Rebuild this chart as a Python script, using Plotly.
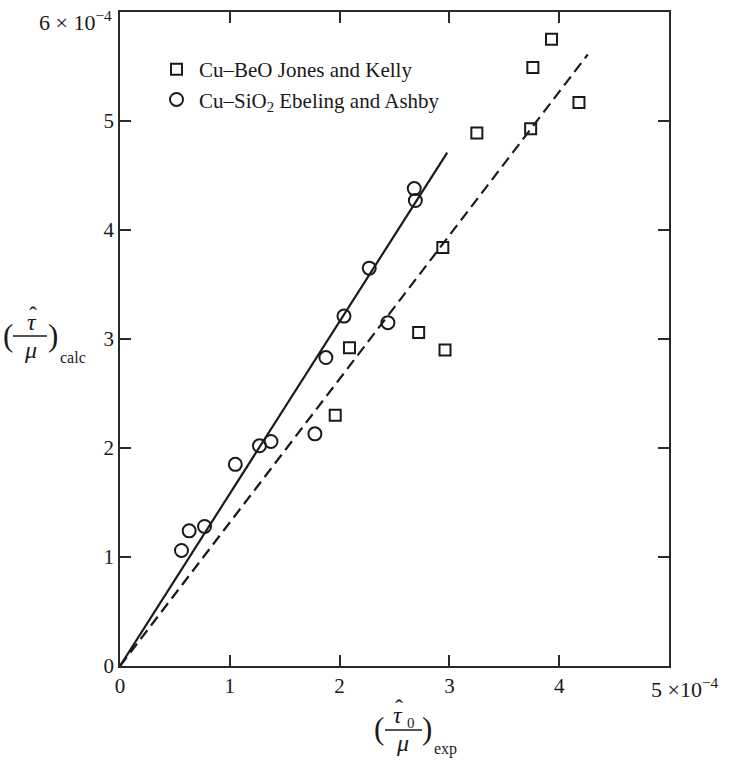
import plotly.graph_objects as go

# Data (units of 1e-4)
beo_x = [3.93, 3.76, 4.18, 3.25, 3.74, 2.94, 2.72, 2.96, 2.09, 1.96]
beo_y = [5.75, 5.49, 5.17, 4.89, 4.93, 3.84, 3.06, 2.90, 2.92, 2.30]
sio2_x = [2.68, 2.69, 2.27, 2.04, 1.875, 2.44, 1.775, 1.27, 1.375, 1.05, 0.77, 0.63, 0.56]
sio2_y = [4.38, 4.27, 3.65, 3.21, 2.83, 3.15, 2.13, 2.02, 2.06, 1.85, 1.28, 1.24, 1.06]
solid_x = [0, 2.98]
solid_y = [0, 4.71]
dash_x = [0, 4.26]
dash_y = [0, 5.61]
x_ticks = [0, 1, 2, 3, 4, 5]
x_ticktext = ["0", "1", "2", "3", "4", ""]
x_last_label = "5 ×10<sup>−4</sup>"
y_ticks = [0, 1, 2, 3, 4, 5, 6]
y_ticktext = ["0", "1", "2", "3", "4", "5", ""]
y_last_label = "6 × 10<sup>−4</sup>"

W, H = 732, 762
L, R, T, B = 120, 669, 12, 666
FONT = "Liberation Serif"
INK = "#2a2a2a"

def px(xp, yp):
    return (xp - L) / (R - L), (B - yp) / (B - T)

fig = go.Figure()
fig.add_trace(go.Scatter(x=solid_x, y=solid_y, mode="lines", line=dict(color="#1a1a1a", width=2.2),
                         showlegend=False, hoverinfo="skip"))
fig.add_trace(go.Scatter(x=dash_x, y=dash_y, mode="lines",
                         line=dict(color="#1a1a1a", width=2.2, dash="11px,6px"),
                         showlegend=False, hoverinfo="skip"))
fig.add_trace(go.Scatter(x=beo_x, y=beo_y, mode="markers", name="Cu–BeO Jones and Kelly",
                         marker=dict(symbol="square-open", size=11, color="#1a1a1a", line=dict(width=2))))
fig.add_trace(go.Scatter(x=sio2_x, y=sio2_y, mode="markers", name="Cu–SiO<sub>2</sub> Ebeling and Ashby",
                         marker=dict(symbol="circle-open", size=13, color="#1a1a1a", line=dict(width=2))))

axis_common = dict(showgrid=False, zeroline=False, showline=True, linecolor=INK, linewidth=1.5,
                   ticks="inside", ticklen=11, tickwidth=1.5, tickcolor=INK, mirror="allticks",
                   automargin=False, ticklabeloverflow="allow",
                   tickfont=dict(family=FONT, size=21, color="#1a1a1a"))
fig.update_xaxes(range=[0, 5], tickvals=x_ticks, ticktext=x_ticktext, **axis_common)
fig.update_yaxes(range=[0, 6], tickvals=y_ticks, ticktext=y_ticktext, **axis_common)

ann = []
def add_text(text, xp, yp, size, italic=False, xanchor="center"):
    x, y = px(xp, yp)
    if italic:
        text = "<i>" + text + "</i>"
    ann.append(dict(text=text, x=x, y=y, xref="paper", yref="paper", showarrow=False,
                    xanchor=xanchor, yanchor="middle", font=dict(family=FONT, size=size, color="#1a1a1a")))

# end-of-axis tick labels with exponent
add_text(x_last_label, 649, 688, 22, xanchor="left")
add_text(y_last_label, 114, 21, 22, xanchor="right")

# y title
add_text("(", 8, 335, 31)
add_text("ˆ", 33, 315, 24)
add_text("τ", 32, 322, 24, italic=True)
add_text("μ", 30, 350, 24, italic=True)
add_text(")", 53, 335, 31)
add_text("calc", 73, 357, 16)

# x title
add_text("(", 379, 728, 31)
add_text("ˆ", 399, 708, 24)
add_text("τ", 398, 715, 24, italic=True)
add_text("0", 411, 723, 15)
add_text("μ", 402, 743, 24, italic=True)
add_text(")", 427, 728, 31)
add_text("exp", 445, 749, 16)

shapes = []
for (x0, x1, yy) in [(13, 47, 336), (385, 422, 730)]:
    a0, b0 = px(x0, yy)
    a1, _ = px(x1, yy)
    shapes.append(dict(type="line", xref="paper", yref="paper", x0=a0, x1=a1, y0=b0, y1=b0,
                       line=dict(color="#1a1a1a", width=1.3)))

lx, ly = px(154, 49)
fig.update_layout(
    width=W, height=H,
    margin=dict(l=L, r=W - R, t=T, b=H - B, autoexpand=False),
    plot_bgcolor="white", paper_bgcolor="white",
    annotations=ann, shapes=shapes,
    legend=dict(x=lx, y=ly, xanchor="left", yanchor="top", bgcolor="rgba(0,0,0,0)",
                font=dict(family=FONT, size=21, color="#1a1a1a"), itemwidth=35, tracegroupgap=0),
)
fig.write_html("out.html", config={"displayModeBar": False},
               post_script="document.body.style.margin='0';document.body.style.padding='0';")
